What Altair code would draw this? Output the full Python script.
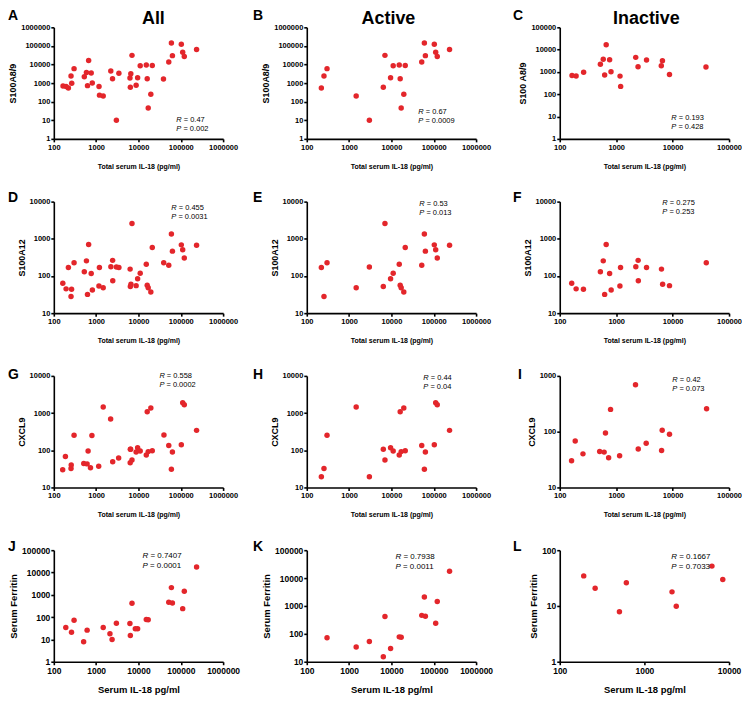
import math
import altair as alt
import pandas as pd

# ---------------- data ----------------
# IL-18 (pg/ml) of active patients, as plotted in the S100 / CXCL9 panels
act_il18 = [221, 255, 301, 1470, 3010, 6430, 7030, 9550, 11000, 15300, 16100,
            17000, 19600, 21200, 52000, 60000, 63400, 103000, 111000, 121000, 236000]
s89_act = [540, 2400, 6000, 200, 10, 600, 31000, 1950, 8500, 9500, 1700,
           46, 250, 8800, 13600, 145000, 30000, 122000, 46000, 27000, 64000]
s12_act = [168, 28, 228, 48, 175, 52, 2590, 84, 119, 206, 56,
           48, 37, 583, 194, 1350, 466, 687, 506, 303, 673]
cx9_act = [19.5, 32.5, 253, 1450, 19.5, 106, 55, 117, 95, 75, 1090,
           92, 1365, 97, 135, 31, 90, 140, 1890, 1675, 343]

# inactive patients, S100A8/9
s89_inact_il18 = [165, 195, 265, 525, 590, 625, 665, 765, 810, 1170, 1200,
                  2220, 2440, 3450, 6300, 6600, 8800, 39000]
s89_inact = [700, 660, 970, 2200, 3700, 730, 16500, 3500, 1020, 650, 225,
             4500, 1700, 3400, 1880, 3200, 770, 1650]
# inactive patients, S100A12
s12_inact_il18 = [163, 195, 263, 525, 590, 625, 665, 765, 815, 1165, 1195,
                  2230, 2450, 2470, 3450, 6350, 6650, 8800, 39500]
s12_inact = [64, 45, 44, 130, 255, 32, 702, 116, 42, 54, 170,
             176, 263, 74, 170, 153, 60, 55, 226]
# inactive patients, CXCL9
cx9_inact_il18 = [162, 188, 258, 510, 612, 646, 735, 795, 1150, 2200, 2460,
                  3400, 6380, 6540, 8800, 40000]
cx9_inact = [30, 68, 40, 44, 43, 95, 34, 251, 37, 693, 49,
             62, 46, 106, 90, 258]
# CXCL9, all patients (panel G as drawn)
cx9_all_il18 = [255, 301, 1470, 6430, 7030, 9550, 11000, 15300, 16100, 17000,
                19600, 21200, 52000, 60000, 63400, 103000, 111000, 121000, 236000,
                162, 188, 258, 510, 612, 646, 735, 795, 1150, 2200, 2460,
                3400, 6380, 6540, 8800, 40000]
cx9_all = [32.5, 253, 1450, 106, 55, 117, 95, 75, 1090, 92,
           1365, 97, 135, 31, 90, 140, 1890, 1675, 343,
           30, 68, 40, 44, 43, 95, 34, 251, 37, 693, 49,
           62, 46, 106, 90, 258]
# ferritin
fer_act_il18 = [301, 1470, 3010, 6430, 7030, 9550, 15300, 17000, 52000, 60000,
                63400, 111000, 121000, 236000]
fer_act = [72, 34, 53, 15, 420, 30, 78, 76, 460, 2100, 430, 240, 1450, 17500]
fer_inact_il18 = [192, 262, 507, 612, 2120, 2380, 6280, 8430]
fer_inact = [34.6, 20.8, 7.9, 26.1, 17.9, 9.9, 51.8, 29.9]

RED = "#e3262b"
FONT = "Liberation Sans"
W, H = 170, 112


def decades(lo, hi):
    a, b = round(math.log10(lo)), round(math.log10(hi))
    return [10 ** k for k in range(a, b + 1)]


def txt(t, x, y, size, weight="normal", style="normal", align="left"):
    return alt.Chart(pd.DataFrame({"t": [t]})).mark_text(
        font=FONT, fontSize=size, fontWeight=weight, fontStyle=style,
        align=align, baseline="alphabetic", color="black"
    ).encode(x=alt.value(x), y=alt.value(y), text="t:N")


def panel(xs, ys, xdom, ydom, ytitle, xtitle, letter, lxy, r, p, axy,
          big=False, colname=None, colx=0):
    df = pd.DataFrame({"x": xs, "y": ys})
    lab = 8.5 if big else 7.5
    pts = alt.Chart(df).mark_circle(size=30, color=RED, opacity=1).encode(
        x=alt.X("x:Q",
                scale=alt.Scale(type="log", domain=xdom, nice=False),
                axis=alt.Axis(values=decades(*xdom), format="d", title=xtitle,
                              labelFontSize=lab, titleFontSize=9.5 if big else 7,
                              tickSize=3, labelPadding=1.5,
                              titlePadding=10 if big else 11.5,
                              labelFlush=False)),
        y=alt.Y("y:Q",
                scale=alt.Scale(type="log", domain=ydom, nice=False),
                axis=alt.Axis(values=decades(*ydom), format="d", title=ytitle,
                              labelFontSize=lab, titleFontSize=9.5 if big else 9,
                              tickSize=3, labelPadding=1, titlePadding=3,
                              labelFlush=False)),
    )
    fs = 8 if big else 7.5
    ax, ay = axy
    layers = [pts,
              txt("R", ax, ay, fs, style="italic"),
              txt("= " + r, ax + fs * 1.0, ay, fs),
              txt("P", ax, ay + fs * 1.2, fs, style="italic"),
              txt("= " + p, ax + fs * 0.95, ay + fs * 1.2, fs),
              txt(letter, lxy[0], lxy[1], 14, weight="bold")]
    if colname:
        layers.append(txt(colname, colx, -3, 18, weight="bold", align="center"))
    return alt.layer(*layers).properties(width=W, height=H)


X1 = "Total serum IL-18 (pg/ml)"
X2 = "Serum IL-18 pg/ml"
all_il18_89 = act_il18 + s89_inact_il18
all_il18_12 = act_il18 + s12_inact_il18
all_il18_fe = fer_act_il18 + fer_inact_il18

panels = [
    panel(all_il18_89, s89_act + s89_inact, [100, 1e6], [1, 1e6], "S100A8/9", X1,
          "A", (-46, -7), "0.47", "0.002", (123, 95), colname="All", colx=100),
    panel(act_il18, s89_act, [100, 1e6], [1, 1e6], "S100A8/9", X1,
          "B", (-54, -7), "0.67", "0.0009", (112, 87), colname="Active", colx=82),
    panel(s89_inact_il18, s89_inact, [100, 1e5], [1, 1e5], "S100 A8/9", X1,
          "C", (-47, -7), "0.193", "0.428", (112, 93), colname="Inactive", colx=87),
    panel(all_il18_12, s12_act + s12_inact, [100, 1e6], [10, 1e4], "S100A12", X1,
          "D", (-46, 0), "0.455", "0.0031", (118, 8)),
    panel(act_il18, s12_act, [100, 1e6], [10, 1e4], "S100A12", X1,
          "E", (-54, 0), "0.53", "0.013", (113, 4)),
    panel(s12_inact_il18, s12_inact, [100, 1e5], [10, 1e4], "S100A12", X1,
          "F", (-47, 0), "0.275", "0.253", (103, 3)),
    panel(cx9_all_il18, cx9_all, [100, 1e6], [10, 1e4], "CXCL9", X1,
          "G", (-46, 3), "0.558", "0.0002", (106, 2)),
    panel(act_il18, cx9_act, [100, 1e6], [10, 1e4], "CXCL9", X1,
          "H", (-54, 3), "0.44", "0.04", (117, 4)),
    panel(cx9_inact_il18, cx9_inact, [100, 1e5], [10, 1e3], "CXCL9", X1,
          "I", (-42, 3), "0.42", "0.073", (113, 6)),
    panel(all_il18_fe, fer_act + fer_inact, [100, 1e6], [1, 1e5], "Serum Ferritin", X2,
          "J", (-46, 1), "0.7407", "0.0001", (89, 8), big=True),
    panel(fer_act_il18, fer_act, [100, 1e6], [10, 1e5], "Serum Ferritin", X2,
          "K", (-54, 1), "0.7938", "0.0011", (89, 9), big=True),
    panel(fer_inact_il18, fer_inact, [100, 1e4], [1, 100], "Serum Ferritin", X2,
          "L", (-47, 1), "0.1667", "0.7033", (112, 9), big=True),
]

chart = alt.concat(
    *panels, columns=3, spacing={"row": 63, "column": 84}, bounds="flush"
).properties(
    padding={"left": 0, "top": 0, "right": 0, "bottom": 0}
).configure_axis(
    domainColor="black", domainWidth=1.6, tickColor="black", tickWidth=1.6,
    labelColor="black", titleColor="black", labelFont=FONT, titleFont=FONT,
    labelFontWeight="bold", titleFontWeight="bold", grid=False
).configure_view(strokeWidth=0)

chart.save("out.html", embed_options={"renderer": "svg", "actions": False})
